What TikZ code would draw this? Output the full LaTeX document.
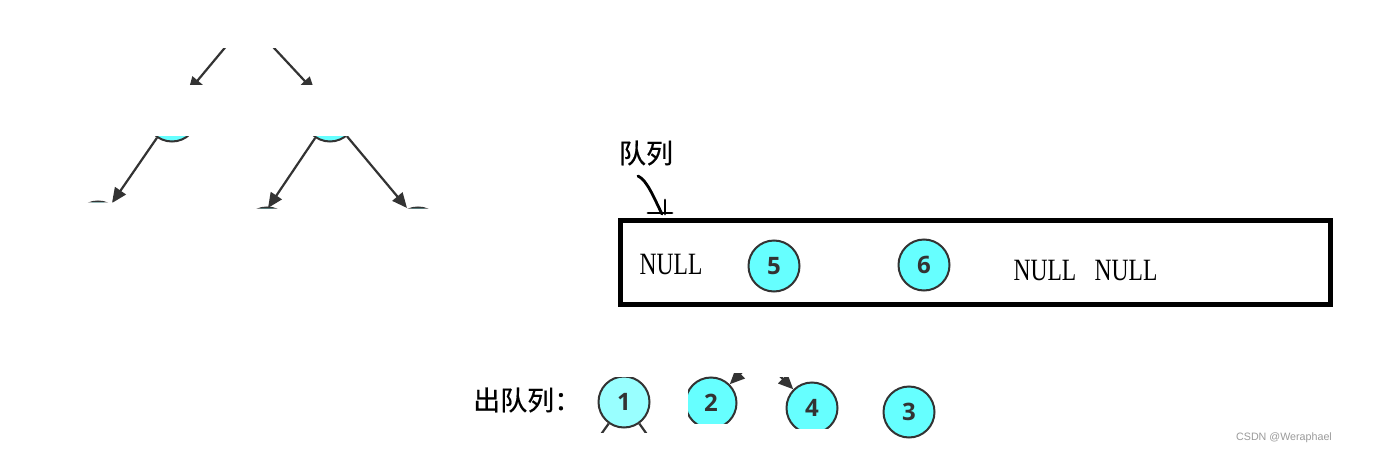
\documentclass[tikz,border=0pt]{standalone}
\usepackage{fontspec}
\setmainfont{Liberation Serif}
\newfontfamily\cjk{Noto Sans CJK SC}[FakeBold=0.6]
\newfontfamily\numfont{Open Sans}
\newfontfamily\markfont{Liberation Sans}
\usetikzlibrary{arrows.meta}
\definecolor{nodecyan}{RGB}{102,255,255}
\definecolor{nodepale}{RGB}{153,255,255}
\definecolor{linegray}{RGB}{51,51,51}
\definecolor{markgray}{RGB}{155,155,155}
\tikzset{
  tnode/.style={circle, draw=linegray, line width=2pt, fill=nodecyan,
    minimum size=51pt, inner sep=0pt, text=linegray,
    font=\numfont\bfseries\fontsize{24}{24}\selectfont},
  edge/.style={linegray, line width=2.2pt, -{Triangle[length=15pt, width=13pt]}},
  nulltxt/.style={font=\fontsize{31}{31}\selectfont, inner sep=0pt},
  cjktxt/.style={font=\cjk\fontsize{27}{27}\selectfont, inner sep=0pt},
  hand/.style={line width=2.8pt, line cap=round},
}

\begin{document}
\begin{tikzpicture}[x=1pt, y=-1pt]
\fill[white] (0,0) rectangle (1374,455);
\useasboundingbox (0,0) rectangle (1374,455);

% tree pieces
\begin{scope}
  \clip (150,48) rectangle (340,84);
  \coordinate (root) at (248,20);
  \coordinate (lt) at (188,92);
  \coordinate (rt) at (315,92);
  \draw[edge] (root) -- (lt);
  \draw[edge] (root) -- (rt);
\end{scope}
\begin{scope}
  \clip (80,136) rectangle (220,202.3) (220,136) rectangle (440,208.5);
  \node[tnode] (L) at (172,116) {};
  \node[tnode] (R) at (330,116) {};
  \node[tnode] (LL) at (98,227) {};
  \node[tnode] (RL) at (267,233) {};
  \node[tnode] (RR) at (418,233) {};
  \coordinate (llt) at (112,203);
  \coordinate (rlt) at (268,208);
  \coordinate (rrt) at (407,208);
  \draw[edge] (L) -- (llt);
  \draw[edge] (R) -- (rlt);
  \draw[edge] (R) -- (rrt);
\end{scope}

% queue
\node[cjktxt] (qname) at (646,153) {队列};
\coordinate (qtail) at (638,176);
\coordinate (qtip) at (662,214);
\draw[hand] (qtail) .. controls (647,180) and (654,198) .. (qtip);
\draw[hand] (qtip) ++(-14,-1) -- ++(24,0);
\draw[hand] (qtip) ++(3,-14) -- ++(0,14);
\node[draw, line width=5pt, minimum width=710pt, minimum height=84pt,
  inner sep=0pt] (queue) at (975.3,262.5) {};
\node[nulltxt] (null1) at (671,264) {\scalebox{0.76}[1]{NULL}};
\node[tnode] (q5) at (774,266) {5};
\node[tnode] (q6) at (924,265) {6};
\node[nulltxt] (null2) at (1085.5,270) {\scalebox{0.76}[1]{NULL\hspace{24pt}NULL}};

% dequeued
\node[cjktxt, anchor=west] (outname) at (473,400) {出队列：};
\begin{scope}
  \clip (590,377) rectangle (660,432);
  \node[tnode, fill=nodepale] (n1) at (624,402) {1};
  \coordinate (c1l) at (580,464);
  \coordinate (c1r) at (668,464);
  \draw[edge] (n1) -- (c1l);
  \draw[edge] (n1) -- (c1r);
\end{scope}
\begin{scope}
  \clip (688,373) rectangle (750,423);
  \coordinate (p2) at (771,343);
  \node[tnode] (n2) at (711,403) {2};
  \draw[edge] (p2) -- (n2);
\end{scope}
\begin{scope}
  \clip (778,377) rectangle (850,428);
  \coordinate (p4) at (752,348);
  \node[tnode] (n4) at (812,408) {4};
  \draw[edge] (p4) -- (n4);
\end{scope}
\node[tnode] (n3) at (909,412) {3};

\node[font=\markfont\fontsize{10.7}{10.7}\selectfont, text=markgray]
  (mark) at (1284,438) {CSDN @Weraphael};
\end{tikzpicture}
\end{document}
